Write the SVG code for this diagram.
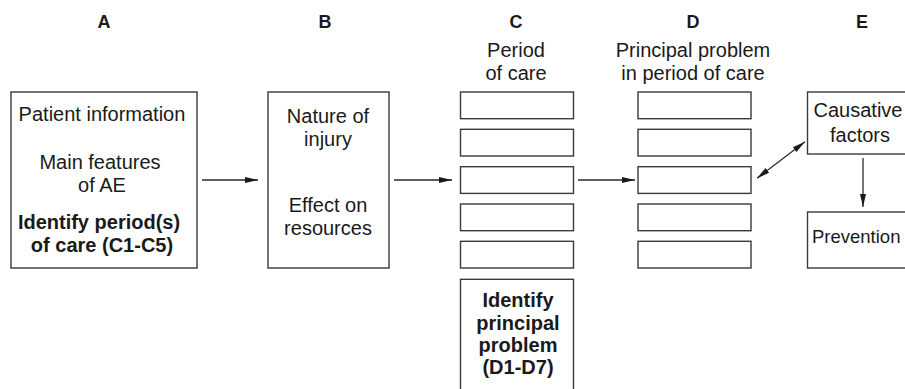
<svg xmlns="http://www.w3.org/2000/svg" width="905" height="389" viewBox="0 0 905 389">
<style>
.box{fill:#fff;stroke:#3a3a3a;stroke-width:1.4}
.t{font-family:"Liberation Sans",Arial,sans-serif;font-size:20px;fill:#1a1a1a;text-anchor:middle}
.b{font-weight:bold}
.h{font-family:"Liberation Sans",Arial,sans-serif;font-size:18px;font-weight:bold;fill:#1a1a1a;text-anchor:middle}
.c{stroke:#2a2a2a;stroke-width:1.3;fill:none}
</style>
<defs>
<marker id="ah" viewBox="0 0 13 8" refX="13" refY="4" markerWidth="13" markerHeight="8" markerUnits="userSpaceOnUse" orient="auto-start-reverse">
<path d="M0,1 L13,4 L0,7 Z" fill="#1a1a1a"/>
</marker>
</defs>
<g id="headers">
<text class="h" x="104" y="28">A</text>
<text class="h" x="325" y="28">B</text>
<text class="h" x="516" y="28">C</text>
<text class="h" x="693" y="28">D</text>
<text class="h" x="862" y="28">E</text>
<text class="t" x="516" y="57">Period</text>
<text class="t" x="516" y="80">of care</text>
<text class="t" x="693" y="57">Principal problem</text>
<text class="t" x="693" y="80">in period of care</text>
</g>
<g id="nodeA">
<rect class="box" x="11" y="92" width="186" height="176"/>
<text class="t" x="102" y="121">Patient information</text>
<text class="t" x="100" y="169">Main features</text>
<text class="t" x="102" y="192">of AE</text>
<text class="t b" x="99" y="229">Identify period(s)</text>
<text class="t b" x="102" y="252">of care (C1-C5)</text>
</g>
<g id="nodeB">
<rect class="box" x="268" y="92" width="121" height="176"/>
<text class="t" x="328" y="123">Nature of</text>
<text class="t" x="328" y="146">injury</text>
<text class="t" x="328" y="212">Effect on</text>
<text class="t" x="328" y="235">resources</text>
</g>
<g id="nodeC">
<rect class="box" x="460.5" y="92" width="113" height="26.7"/>
<rect class="box" x="460.5" y="129.3" width="113" height="26.7"/>
<rect class="box" x="460.5" y="166.7" width="113" height="26.7"/>
<rect class="box" x="460.5" y="204" width="113" height="26.7"/>
<rect class="box" x="460.5" y="241.3" width="113" height="26.7"/>
</g>
<g id="nodeC-identify">
<rect class="box" x="460.5" y="279.3" width="113" height="120"/>
<text class="t b" x="518" y="307">Identify</text>
<text class="t b" x="518" y="330">principal</text>
<text class="t b" x="518" y="352">problem</text>
<text class="t b" x="518" y="374">(D1-D7)</text>
</g>
<g id="nodeD">
<rect class="box" x="638" y="92" width="113" height="26.7"/>
<rect class="box" x="638" y="129.3" width="113" height="26.7"/>
<rect class="box" x="638" y="166.7" width="113" height="26.7"/>
<rect class="box" x="638" y="204" width="113" height="26.7"/>
<rect class="box" x="638" y="241.3" width="113" height="26.7"/>
</g>
<g id="nodeE-causative">
<rect class="box" x="807.5" y="92" width="110" height="62"/>
<text class="t" x="858" y="117">Causative</text>
<text class="t" x="860" y="142">factors</text>
</g>
<g id="nodeE-prevention">
<rect class="box" x="807.5" y="212" width="110" height="56"/>
<text class="t" x="812" y="243" style="text-anchor:start;font-size:18.5px">Prevention</text>
</g>
<g id="connectors">
<line class="c" x1="202" y1="180" x2="258" y2="180" marker-end="url(#ah)"/>
<line class="c" x1="394" y1="180" x2="452" y2="180" marker-end="url(#ah)"/>
<line class="c" x1="578" y1="180" x2="635" y2="180" marker-end="url(#ah)"/>
<line class="c" x1="757" y1="178.3" x2="805" y2="141.7" marker-start="url(#ah)" marker-end="url(#ah)"/>
<line class="c" x1="863" y1="158" x2="863" y2="207" marker-end="url(#ah)"/>
</g>
</svg>
